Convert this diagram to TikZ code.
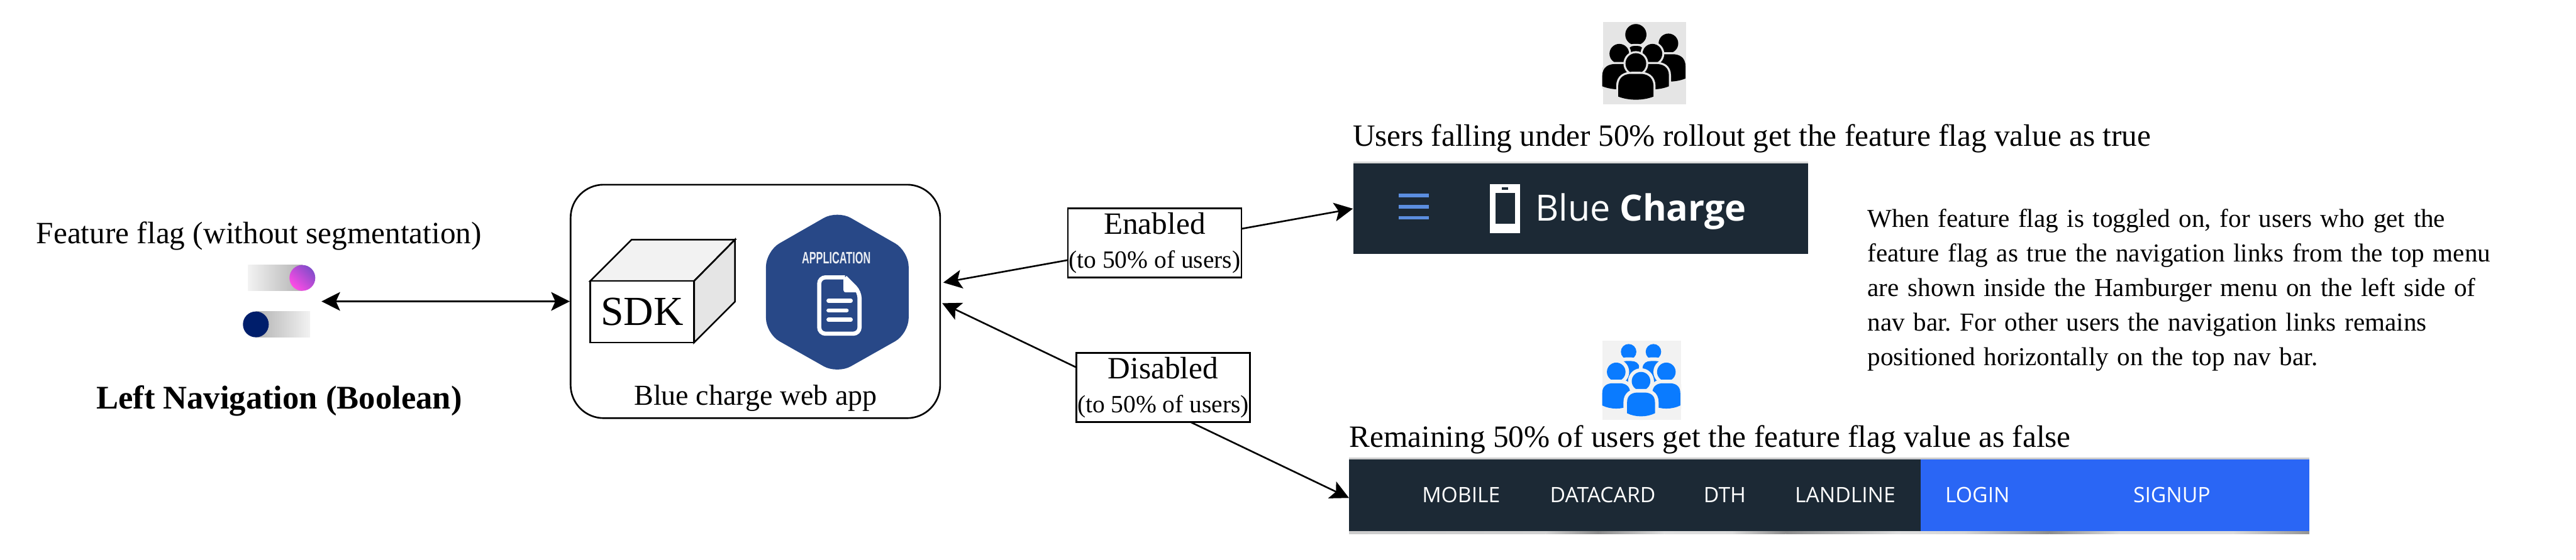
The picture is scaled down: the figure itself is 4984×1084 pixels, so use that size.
\documentclass[tikz,border=0pt]{standalone}
\usepackage{fontspec}
\setmainfont{Liberation Serif}
\newfontfamily\navfont{Open Sans}
\newfontfamily\hexfont{Liberation Sans}
\usepackage{tikz}
\usetikzlibrary{arrows.meta,positioning,calc}
\newcommand{\fsz}[1]{\fontsize{#1}{#1}\selectfont}
% args: colour, gap colour, gap, x, head y, head r, body top, half width, body bottom
\newcommand{\crowdperson}[9]{%
  \fill[fill=#1, preaction={draw=#2, line width=#3}] (#4,#5) circle[radius=#6];
  \fill[fill=#1, preaction={draw=#2, line width=#3}] ({#4-#8},#9) -- ({#4-#8},{#7+.7*#8})
    .. controls ({#4-#8},{#7+.15*#8}) and ({#4-.6*#8},#7) .. ({#4-.25*#8},#7) -- ({#4+.25*#8},#7)
    .. controls ({#4+.6*#8},#7) and ({#4+#8},{#7+.15*#8}) .. ({#4+#8},{#7+.7*#8}) -- ({#4+#8},#9)
    .. controls ({#4+.4*#8},{#9+8}) and ({#4-.4*#8},{#9+8}) .. cycle;
}
\definecolor{navdark}{HTML}{1C2935}
\definecolor{navblue}{HTML}{2A66F5}
\definecolor{hexblue}{HTML}{284887}
\definecolor{crowdblue}{HTML}{0A7BFF}
\definecolor{menublue}{HTML}{5B8EE0}
\definecolor{knobnavy}{HTML}{001E6B}

\begin{document}
\begin{tikzpicture}[
  x=0.5pt, y=-0.5pt, font=\fsz{30},
  lbl/.style={inner sep=0pt},
  lblbox/.style={draw, line width=1.6pt, fill=white, align=center, inner sep=0pt, minimum width=168pt, minimum height=67pt},
  flow/.style={{Stealth[length=18pt,width=18pt,inset=4pt]}-{Stealth[length=18pt,width=18pt,inset=4pt]}, line width=1.6pt},
  navbar/.style={inner sep=0pt, fill=navdark},
  navlink/.style={inner sep=0pt, anchor=base, text=white, font=\navfont\fsz{20.5}},
  bar/.style={inner sep=0pt, fill=menublue, minimum width=29.5pt, minimum height=3.5pt},
  docline/.style={white, line width=4pt, line cap=round}
]
\useasboundingbox (0,0) rectangle (4984,1084);

% flag side
\node[lbl, anchor=base] (flagtxt) at (501,472) {Feature flag (without segmentation)};
\shade[left color=black!5, right color=black!30] (480,513) rectangle (585,563);
\shade[left color=black!30, right color=black!5] (495,603) rectangle (600,653);
\shade[bottom color=magenta!60!pink, top color=violet!60!blue!70!white, shading angle=-45] (585,538) circle[radius=25];
\fill[fill=knobnavy] (495,628) circle[radius=25];
\node[lbl, anchor=base, font=\fsz{32}\bfseries] (flagname) at (540,791) {Left Navigation (Boolean)};
\coordinate (flagend) at (622,583.5);

% web app
\node[draw, line width=1.6pt, rounded corners=32pt, minimum width=357.5pt, minimum height=226pt] (app) at (1461.5,583.5) {};
\node[lbl, anchor=base, font=\fsz{28}] (apptxt) at (1462,784) {Blue charge web app};
\draw[flow] (flagend) -- (app.west);

% sdk cube
\filldraw[fill=black!5, line width=1.6pt] (1142,544) -- (1222,464) -- (1422,464) -- (1343,544) -- cycle;
\filldraw[fill=black!10, line width=1.6pt] (1343,544) -- (1422,464) -- (1422,584) -- (1343,663) -- cycle;
\node[draw, line width=1.6pt, fill=white, font=\fsz{40}, inner sep=0pt, minimum width=100.5pt, minimum height=59.5pt] (sdk) at (1242.5,603.5) {SDK};

% application badge
\fill[hexblue, rounded corners=15pt] (1620,407) -- (1758,486) -- (1758,646) -- (1620,724) -- (1482,646) -- (1482,486) -- cycle;
\node[lbl, text=white!90!hexblue, transform shape, xscale=.62, font=\hexfont\bfseries\fsz{16}] (apphdr) at (1618,499.5) {APPLICATION};
\draw[white, line width=4pt, rounded corners=6pt] (1635,537) -- (1585,537) -- (1585,646) -- (1663,646) -- (1663,565) -- (1635,537);
\fill[white, rounded corners=2pt] (1632,537) -- (1632,566) -- (1666,566) -- cycle;
\draw[docline] (1603,582) -- (1646,582);
\draw[docline] (1603,601) -- (1638,601);
\draw[docline] (1603,619) -- (1646,619);

% top audience
\node[inner sep=0pt, fill=black!10, minimum size=80pt] (crowdtop) at (3182,122) {};
\begin{scope}
\clip (3100,42) rectangle (3262,202);
\foreach \cx/\hy/\hr/\bt/\hw/\bb in {3165/67/20.5/89/14/120, 3228/84/19/105/33/152, 3133/104/19/124/33/167, 3197/104/19/124/32/167, 3165/123/20/143/34/187}
  {\crowdperson{black}{black!10}{4pt}{\cx}{\hy}{\hr}{\bt}{\hw}{\bb}}
\end{scope}
\node[lbl, anchor=base west] (toptxt) at (2617,283) {Users falling under 50\% rollout get the feature flag value as true};

% top nav bar
\fill[black!15] (2618,313) rectangle (3498,318);
\node[navbar, minimum width=440pt, minimum height=88pt] (navtop) at (3058,404) {};
\node[bar] (bar1) at (2735.5,378.5) {};
\node[bar] (bar2) at (2735.5,400.5) {};
\node[bar] (bar3) at (2735.5,421.5) {};
\fill[white] (2882,356) rectangle (2941,452);
\fill[navdark] (2893,373) rectangle (2931,433);
\fill[navdark] (2906,363) rectangle (2918,367);
\node[lbl, anchor=base west, text=white, font=\navfont\fsz{35}] (brand) at (2970,428) {Blue \textbf{Charge}};

% bottom audience
\node[inner sep=0pt, fill=black!5, minimum width=76.5pt, minimum height=76.5pt] (crowdlow) at (3176.5,736.5) {};
\begin{scope}
\clip (3100,660) rectangle (3253,813);
\foreach \cx/\hy/\hr/\bt/\hw/\bb in {3151/681/15/699/21/747, 3199/681/15/699/21/747, 3127/720/18/742/27/785, 3224/720/18/742/27/785, 3175/738/18/760/27/800}
  {\crowdperson{crowdblue}{black!5}{7pt}{\cx}{\hy}{\hr}{\bt}{\hw}{\bb}}
\end{scope}
\node[lbl, anchor=base west] (lowtxt) at (2610,866) {Remaining 50\% of users get the feature flag value as false};

% bottom nav bar
\fill[black!20] (2610,886) rectangle (4468,890);
\foreach \xa/\xb/\ca/\cb in {2610/2990/20/18, 2990/3092/18/45, 3092/3220/45/13, 3220/3350/13/14, 3350/3455/14/45, 3455/3672/45/13, 3672/3800/13/16, 3800/3965/16/45, 3965/4100/45/14, 4100/4320/14/14, 4320/4468/14/42}
  {\shade[left color=black!\ca, right color=black!\cb] (\xa,1028) rectangle (\xb,1034);}
\node[navbar, minimum width=553pt, minimum height=69.5pt] (navlow) at (3163,958.5) {};
\node[navbar, fill=navblue, minimum width=376pt, minimum height=69.5pt] (navauth) at (4092,958.5) {};
\node[navlink] (mobile) at (2827,973) {MOBILE};
\node[navlink] (datacard) at (3101,973) {DATACARD};
\node[navlink] (dth) at (3337,973) {DTH};
\node[navlink] (landline) at (3570,973) {LANDLINE};
\node[navlink] (login) at (3826,973) {LOGIN};
\node[navlink] (signup) at (4202,973) {SIGNUP};

% connectors with their labels
\coordinate (appup) at (1825,547);
\coordinate (applow) at (1823,587);
\coordinate (navlowin) at (2610,964);
\draw[flow] (appup) -- (navtop.west);
\draw[flow] (applow) -- (navlowin);
\node[lblbox] (enabled) at (2234,470.5) {Enabled\\[3pt]{\fsz{24}(to 50\% of users)}};
\node[lblbox] (disabled) at (2250.5,750) {Disabled\\[3pt]{\fsz{24}(to 50\% of users)}};

% behaviour note
\node[lbl, anchor=base west, align=left, font=\frenchspacing\fontsize{25}{33.5}\selectfont, text width=700pt] (note) at (3613,440) {%
When feature flag is toggled on, for users who get the\\
feature flag as true the navigation links from the top menu\\
are shown inside the Hamburger menu on the left side of\\
nav bar. For other users the navigation links remains\\
positioned horizontally on the top nav bar.};
\end{tikzpicture}
\end{document}
